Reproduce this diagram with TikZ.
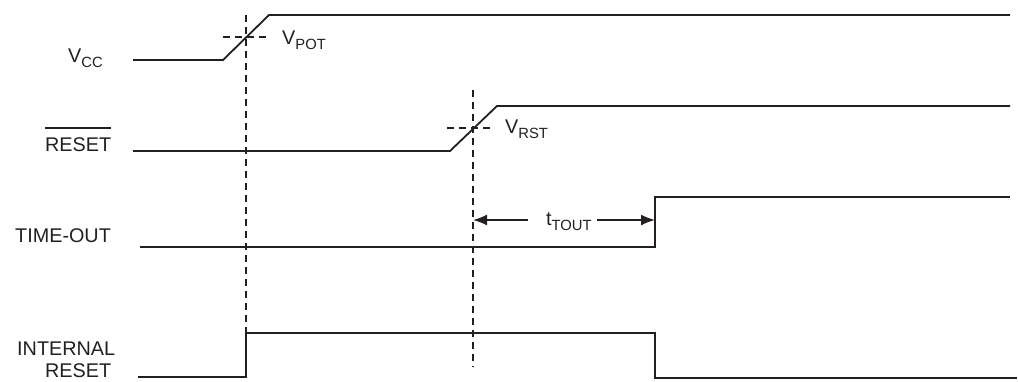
\documentclass[tikz,border=0pt]{standalone}
\usepackage{fontspec}
\setmainfont{Liberation Sans}
\usetikzlibrary{arrows.meta}
\definecolor{ink}{RGB}{35,31,32}
\newcommand{\subs}[1]{\raisebox{-5.5pt}{\fontsize{14.8}{15}\selectfont #1}}
\begin{document}
\begin{tikzpicture}[x=1pt,y=-1pt, color=ink,
  sig/.style={line width=1.8pt, line join=miter},
  guide/.style={line width=1.6pt, dash pattern=on 7pt off 5pt},
  lbl/.style={anchor=base west, inner sep=0pt, text=ink, font=\fontsize{19.8}{22}\selectfont},
  dimarrow/.style={line width=1.6pt, -{Latex[length=14pt,width=11pt]}}]
\useasboundingbox (0,0) rectangle (1018,381);
% ---- coordinates
\coordinate (v0) at (133,60);  \coordinate (v1) at (223,60);
\coordinate (v2) at (269,15);  \coordinate (v3) at (1010,15);
\coordinate (r0) at (133,151); \coordinate (r1) at (450,151);
\coordinate (r2) at (497,106); \coordinate (r3) at (1010,106);
\coordinate (t0) at (140,247); \coordinate (t1) at (655,247);
\coordinate (t2) at (655,197); \coordinate (t3) at (1010,197);
\coordinate (i0) at (138,377); \coordinate (i1) at (246,377);
\coordinate (i2) at (246,333); \coordinate (i3) at (655,333);
\coordinate (i4) at (655,378); \coordinate (i5) at (1017,378);
\coordinate (pa) at (223,37);  \coordinate (pb) at (268,37);
\coordinate (ra) at (447,128); \coordinate (rb) at (492,128);
\coordinate (da) at (246,15);  \coordinate (db) at (246,333);
\coordinate (ea) at (473,90);  \coordinate (eb) at (473,367);
\coordinate (al0) at (528,220); \coordinate (al1) at (473,220);
\coordinate (ar0) at (597,220); \coordinate (ar1) at (655,220);
% ---- waveforms
\draw[sig] (v0) -- (v1) -- (v2) -- (v3);
\draw[sig] (r0) -- (r1) -- (r2) -- (r3);
\draw[sig] (t0) -- (t1) -- (t2) -- (t3);
\draw[sig] (i0) -- (i1) -- (i2) -- (i3) -- (i4) -- (i5);
% ---- guides
\draw[guide] (pa) -- (pb);
\draw[guide] (ra) -- (rb);
\draw[guide] (da) -- (db);
\draw[guide] (ea) -- (eb);
% ---- time-out dimension
\draw[dimarrow] (al0) -- (al1);
\draw[dimarrow] (ar0) -- (ar1);
% ---- labels
\node[lbl] (lvcc) at (68,62) {V\subs{CC}};
\node[lbl] (lpot) at (282,44) {V\subs{POT}};
\node[lbl] (lrst) at (505,133) {V\subs{RST}};
\node[lbl] (lreset) at (45,151) {RESET};
\draw[line width=1.3pt] ([yshift=9pt]lreset.north west) -- ([yshift=9pt]lreset.north east);
\node[lbl] (ltime) at (15,242) {TIME-OUT};
\node[lbl] (lint1) at (17,355) {INTERNAL};
\node[lbl] (lint2) at (45,377) {RESET};
\node[lbl] (ltout) at (546,225) {t\subs{TOUT}};
\end{tikzpicture}
\end{document}
